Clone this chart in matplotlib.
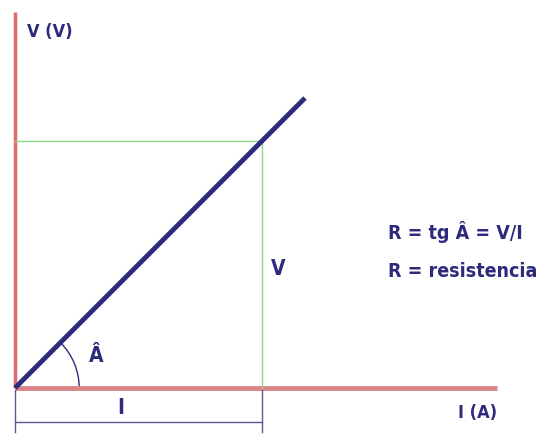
import matplotlib
matplotlib.use('Agg')
import matplotlib.pyplot as plt
from matplotlib.patches import Arc

# diagram values (units: A and V, slope R = 1)
I_val = 5.0
V_val = 5.0
line_end = 5.87
x_axis_end = 9.76
y_axis_end = 7.62
angle_r = 1.3
px = 49.4  # pixels per unit

label_v_axis = 'V (V)'
label_i_axis = 'I (A)'
label_v = 'V'
label_i = 'I'
label_angle = 'Â'
formula_lines = ['R = tg Â = V/I', 'R = resistencia']

navy = '#2e2b7c'
font = dict(family=['DejaVu Sans'], fontstretch='condensed', weight='bold', color=navy)

fig = plt.figure(figsize=(5.47, 4.34), dpi=100)
ax = fig.add_axes([0, 0, 1, 1])
ax.set_xlim(-15 / px, 532 / px)
ax.set_ylim(-46 / px, 388 / px)
ax.axis('off')

# axes
ax.plot([0, 0], [0, y_axis_end], color='#e06a6a', lw=2.5, solid_capstyle='butt')
ax.plot([0, x_axis_end], [0, 0], color='#d98585', lw=3.5, solid_capstyle='butt')

# projection lines
ax.plot([0, I_val], [V_val, V_val], color='#8fd68f', lw=1)
ax.plot([I_val, I_val], [0, V_val], color='#8fd68f', lw=1)

# characteristic line
ax.plot([0, line_end], [0, line_end * V_val / I_val], color=navy, lw=3.5, solid_capstyle='butt')

# angle arc
ax.add_patch(Arc((0, 0), 2 * angle_r, 2 * angle_r, theta1=0, theta2=45, color=navy, lw=1))

# bracket under I
ax.plot([0, I_val], [-0.69, -0.69], color='#5a5a8e', lw=1)
ax.plot([0, 0], [-0.05, -0.9], color='#5a5a8e', lw=1)
ax.plot([I_val, I_val], [-0.05, -0.9], color='#5a5a8e', lw=1)

ax.text(0.25, 7.2, label_v_axis, fontsize=13, ha='left', va='center', **font)
ax.text(9.75, -0.5, label_i_axis, fontsize=13, ha='right', va='center', **font)
ax.text(I_val + 0.33, V_val / 2 - 0.1, label_v, fontsize=15, ha='center', va='center', **font)
ax.text(I_val / 2 - 0.35, -0.4, label_i, fontsize=15, ha='center', va='center', **font)
ax.text(1.65, 0.65, label_angle, fontsize=15, ha='center', va='center', **font)
ax.text(7.55, 3.15, formula_lines[0], fontsize=14, ha='left', va='center', **font)
ax.text(7.55, 2.35, formula_lines[1], fontsize=14, ha='left', va='center', **font)

fig.savefig('out.png', dpi=100)
